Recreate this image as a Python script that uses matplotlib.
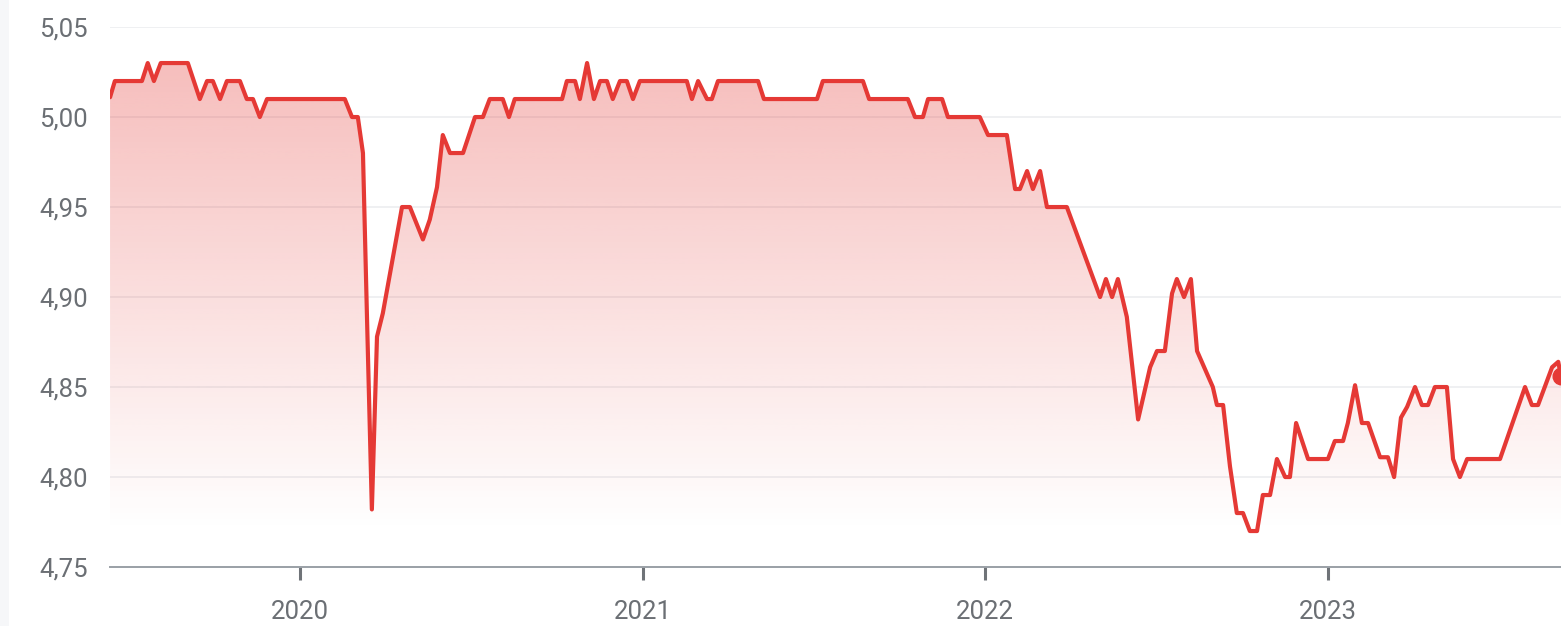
import numpy as np
import matplotlib.pyplot as plt
from matplotlib.patches import Rectangle

plt.rcParams['font.family'] = ['Roboto', 'DejaVu Sans']

# decimal years, with the matching values
years = [2019.446, 2019.460, 2019.539, 2019.556, 2019.574, 2019.594, 2019.673,
         2019.708, 2019.729, 2019.746, 2019.767, 2019.787, 2019.825, 2019.845,
         2019.863, 2019.883, 2019.904, 2020.131, 2020.152, 2020.169, 2020.184,
         2020.196, 2020.210, 2020.225, 2020.242, 2020.298, 2020.321, 2020.359,
         2020.379, 2020.400, 2020.417, 2020.438, 2020.476, 2020.511, 2020.534,
         2020.554, 2020.592, 2020.610, 2020.627, 2020.765, 2020.779, 2020.803,
         2020.817, 2020.838, 2020.858, 2020.876, 2020.896, 2020.913, 2020.934,
         2020.954, 2020.972, 2020.992, 2021.129, 2021.144, 2021.162, 2021.188,
         2021.202, 2021.220, 2021.337, 2021.354, 2021.509, 2021.526, 2021.643,
         2021.661, 2021.774, 2021.795, 2021.818, 2021.833, 2021.874, 2021.891,
         2021.984, 2022.008, 2022.063, 2022.087, 2022.101, 2022.122, 2022.139,
         2022.160, 2022.180, 2022.238, 2022.335, 2022.352, 2022.370, 2022.387,
         2022.413, 2022.446, 2022.481, 2022.501, 2022.524, 2022.545, 2022.559,
         2022.580, 2022.600, 2022.618, 2022.664, 2022.676, 2022.694, 2022.714,
         2022.734, 2022.752, 2022.772, 2022.793, 2022.810, 2022.831, 2022.851,
         2022.875, 2022.889, 2022.907, 2022.942, 2023.000, 2023.020, 2023.044,
         2023.058, 2023.079, 2023.099, 2023.117, 2023.152, 2023.175, 2023.193,
         2023.213, 2023.231, 2023.254, 2023.274, 2023.292, 2023.312, 2023.347,
         2023.365, 2023.385, 2023.406, 2023.502, 2023.575, 2023.595, 2023.613,
         2023.654, 2023.672, 2023.680]
values = [5.011, 5.02, 5.02, 5.03, 5.02, 5.03, 5.03,
          5.01, 5.02, 5.02, 5.01, 5.02, 5.02, 5.01,
          5.01, 5.00, 5.01, 5.01, 5.00, 5.00, 4.98,
          4.887, 4.782, 4.878, 4.891, 4.95, 4.95, 4.932,
          4.943, 4.961, 4.99, 4.98, 4.98, 5.00, 5.00,
          5.01, 5.01, 5.00, 5.01, 5.01, 5.02, 5.02,
          5.01, 5.03, 5.01, 5.02, 5.02, 5.01, 5.02,
          5.02, 5.01, 5.02, 5.02, 5.01, 5.02, 5.01,
          5.01, 5.02, 5.02, 5.01, 5.01, 5.02, 5.02,
          5.01, 5.01, 5.00, 5.00, 5.01, 5.01, 5.00,
          5.00, 4.99, 4.99, 4.96, 4.96, 4.97, 4.96,
          4.97, 4.95, 4.95, 4.90, 4.91, 4.90, 4.91,
          4.889, 4.832, 4.861, 4.87, 4.87, 4.902, 4.91,
          4.90, 4.91, 4.87, 4.85, 4.84, 4.84, 4.806,
          4.78, 4.78, 4.77, 4.77, 4.79, 4.79, 4.81,
          4.80, 4.80, 4.83, 4.81, 4.81, 4.82, 4.82,
          4.83, 4.851, 4.83, 4.83, 4.811, 4.811, 4.80,
          4.833, 4.839, 4.85, 4.84, 4.84, 4.85, 4.85,
          4.81, 4.80, 4.81, 4.81, 4.85, 4.84, 4.84,
          4.861, 4.864, 4.856]

year_ticks = [2020, 2021, 2022, 2023]
y_ticks = [4.75, 4.80, 4.85, 4.90, 4.95, 5.00, 5.05]

red = '#e53935'

fig = plt.figure(figsize=(15.61, 6.26), dpi=100)
fig.patches.append(Rectangle((0, 0), 0.006, 1, transform=fig.transFigure,
                             facecolor='#f6f7f9', edgecolor='none', zorder=0))
ax = fig.add_axes([0.0705, 0.0942, 0.9295, 0.8626])

x0, x1 = years[0], years[-1]

# gradient fill under the line
poly = ax.fill_between(years, values, 4.75, color='none', lw=0)
grad = np.zeros((256, 2, 4))
grad[:, :, 0] = 229 / 255
grad[:, :, 1] = 57 / 255
grad[:, :, 2] = 53 / 255
grad[:, :, 3] = np.linspace(0.0, 0.33, 256)[:, None]
img = ax.imshow(grad, extent=[x0, x1, 4.77, 5.03], origin='lower',
                aspect='auto', zorder=1, interpolation='bilinear')
img.set_clip_path(poly.get_paths()[0], transform=ax.transData)
ax.set_xlim(x0, x1)
ax.set_ylim(4.75, 5.05)

ax.plot(years, values, color=red, lw=3.0, solid_joinstyle='round',
        solid_capstyle='round', zorder=3)
ax.plot(years[-1], values[-1], 'o', color=red, ms=12, zorder=4, clip_on=False)

for s in ['top', 'right', 'left']:
    ax.spines[s].set_visible(False)
ax.spines['bottom'].set_color('#9aa0a6')
ax.spines['bottom'].set_linewidth(1.4)
ax.spines['bottom'].set_zorder(5)

ax.set_yticks(y_ticks)
ax.set_yticklabels(['{:.2f}'.format(v).replace('.', ',') for v in y_ticks])
ax.yaxis.grid(True, color='#eeeff1', lw=1.3)
ax.set_axisbelow(True)
ax.tick_params(axis='y', length=0, pad=16, labelsize=18.5, labelcolor='#6b6f74')

ax.set_xticks(year_ticks)
ax.set_xticklabels([str(y) for y in year_ticks])
ax.tick_params(axis='x', length=9.5, width=2.2, color='#6f7378', pad=14,
               labelsize=18.5, labelcolor='#6b6f74')

plt.savefig('out.png', dpi=100)
